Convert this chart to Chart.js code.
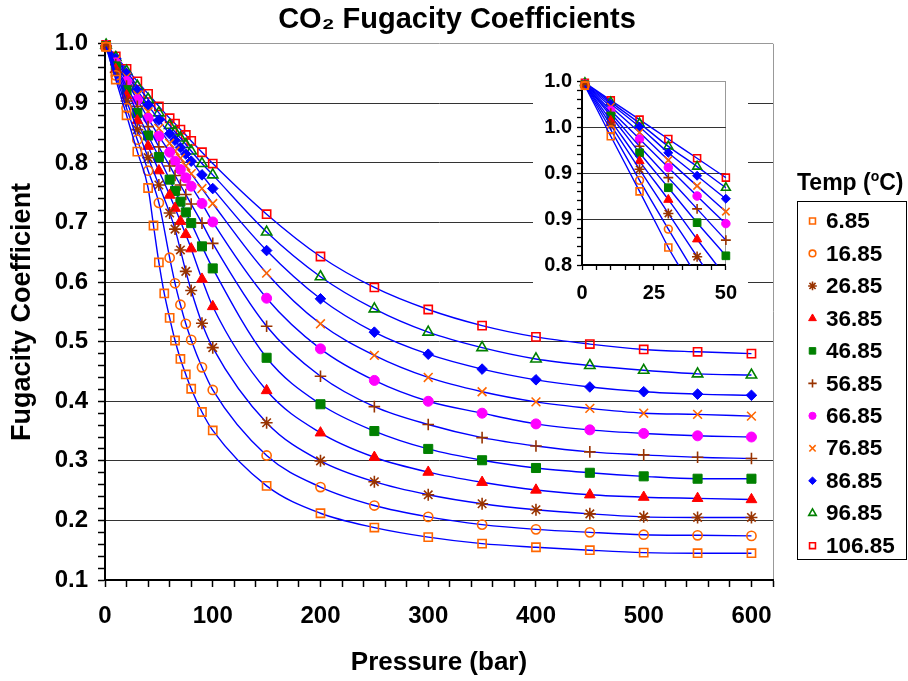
<!DOCTYPE html>
<html>
<head>
<meta charset="utf-8">
<title>CO2 Fugacity Coefficients</title>
<script src="https://cdn.jsdelivr.net/npm/chart.js@4.4.0/dist/chart.umd.min.js"></script>
<style>
  body { margin: 0; background: #fff; }
  #wrap { position: relative; width: 908px; height: 681px; }
  #main { position: absolute; left: 0; top: 0; }
  #inset { position: absolute; left: 533px; top: 62px; background: #fff; }
</style>
</head>
<body>
<div id="wrap">
  <canvas id="main" width="908" height="681"></canvas>
  <canvas id="inset" width="215" height="240"></canvas>
</div>
<script>
// temperatures (degC), one series each
const temps = ['6.85', '16.85', '26.85', '36.85', '46.85', '56.85', '66.85', '76.85', '86.85', '96.85', '106.85'];

// pressures (bar)
const pressures685 = [1, 10, 20, 30, 40, 45, 50, 55, 60, 65, 70, 75, 80, 90, 100, 150, 200, 250, 300, 350, 400, 450, 500, 550, 600];
const pressures = [1, 10, 20, 30, 40, 50, 60, 65, 70, 75, 80, 90, 100, 150, 200, 250, 300, 350, 400, 450, 500, 550, 600];

// fugacity coefficients
const phi685 = [0.995, 0.940, 0.880, 0.819, 0.758, 0.695, 0.633, 0.581, 0.540, 0.502, 0.471, 0.445, 0.421, 0.382, 0.351, 0.258, 0.212, 0.188, 0.172, 0.161, 0.155, 0.150, 0.146, 0.145, 0.145];
const phi1685 = [0.995, 0.947, 0.892, 0.839, 0.787, 0.733, 0.641, 0.598, 0.562, 0.530, 0.503, 0.457, 0.419, 0.309, 0.256, 0.225, 0.206, 0.193, 0.185, 0.180, 0.176, 0.175, 0.174];
const phi2685 = [0.996, 0.952, 0.904, 0.856, 0.809, 0.763, 0.716, 0.689, 0.654, 0.618, 0.586, 0.531, 0.490, 0.364, 0.300, 0.265, 0.243, 0.228, 0.218, 0.211, 0.206, 0.205, 0.205];
const phi3685 = [0.996, 0.957, 0.913, 0.871, 0.828, 0.787, 0.746, 0.724, 0.702, 0.680, 0.656, 0.605, 0.559, 0.418, 0.347, 0.306, 0.281, 0.264, 0.251, 0.243, 0.239, 0.237, 0.235];
const phi4685 = [0.996, 0.962, 0.922, 0.884, 0.846, 0.810, 0.772, 0.753, 0.735, 0.717, 0.699, 0.660, 0.623, 0.473, 0.395, 0.350, 0.320, 0.301, 0.288, 0.280, 0.274, 0.270, 0.270];
const phi5685 = [0.996, 0.965, 0.929, 0.895, 0.861, 0.827, 0.795, 0.779, 0.763, 0.747, 0.731, 0.699, 0.665, 0.526, 0.442, 0.391, 0.361, 0.339, 0.325, 0.315, 0.310, 0.306, 0.304];
const phi6685 = [0.997, 0.968, 0.937, 0.906, 0.875, 0.845, 0.818, 0.803, 0.789, 0.775, 0.761, 0.732, 0.701, 0.573, 0.488, 0.435, 0.400, 0.380, 0.362, 0.352, 0.346, 0.342, 0.340];
const phi7685 = [0.997, 0.972, 0.944, 0.914, 0.886, 0.858, 0.833, 0.820, 0.808, 0.795, 0.782, 0.757, 0.732, 0.615, 0.530, 0.477, 0.440, 0.416, 0.399, 0.388, 0.380, 0.378, 0.375];
const phi8685 = [0.997, 0.975, 0.950, 0.922, 0.897, 0.872, 0.849, 0.838, 0.826, 0.815, 0.803, 0.780, 0.757, 0.653, 0.572, 0.516, 0.479, 0.454, 0.436, 0.424, 0.416, 0.412, 0.410];
const phi9685 = [0.998, 0.977, 0.954, 0.929, 0.907, 0.884, 0.863, 0.852, 0.842, 0.831, 0.820, 0.799, 0.780, 0.684, 0.609, 0.555, 0.516, 0.490, 0.471, 0.460, 0.452, 0.446, 0.444];
const phi10685 = [0.998, 0.979, 0.958, 0.937, 0.916, 0.895, 0.875, 0.866, 0.856, 0.847, 0.837, 0.818, 0.799, 0.714, 0.643, 0.591, 0.554, 0.527, 0.508, 0.496, 0.487, 0.483, 0.480];

const seriesPressures = [pressures685, pressures, pressures, pressures, pressures, pressures, pressures, pressures, pressures, pressures, pressures];
const seriesPhi = [phi685, phi1685, phi2685, phi3685, phi4685, phi5685, phi6685, phi7685, phi8685, phi9685, phi10685];

// tick labels
const xTickLabels = ['0', '100', '200', '300', '400', '500', '600'];
const yTickLabels = ['0.1', '0.2', '0.3', '0.4', '0.5', '0.6', '0.7', '0.8', '0.9', '1.0'];
const insetXTickLabels = ['0', '25', '50'];
const insetYTickValues = [0.8, 0.85, 0.9, 0.95, 1.0];
const insetYTickLabels = ['0.8', '0.9', '0.9', '1.0', '1.0'];

const ORANGE = '#ff6600', BROWN = '#993300', RED = '#ff0000', GREEN = '#008000', MAGENTA = '#ff00ff', BLUE = '#0000ff';
const markers = [
  { style: 'rect', color: ORANGE, fill: false, r: 5.8 },
  { style: 'circle', color: ORANGE, fill: false, r: 4.6 },
  { style: 'star', color: BROWN, fill: true, r: 6 },
  { style: 'triangle', color: RED, fill: true, r: 6.2 },
  { style: 'rect', color: GREEN, fill: true, r: 6.4 },
  { style: 'cross', color: BROWN, fill: true, r: 5.8 },
  { style: 'circle', color: MAGENTA, fill: true, r: 5 },
  { style: 'crossRot', color: ORANGE, fill: true, r: 6.2 },
  { style: 'rectRot', color: BLUE, fill: true, r: 5.3 },
  { style: 'triangle', color: GREEN, fill: false, r: 6 },
  { style: 'rect', color: RED, fill: false, r: 5.8 }
];

Chart.defaults.font.family = '"Liberation Sans", Arial, sans-serif';
Chart.defaults.color = '#000';

function steps(from, to, step) {
  const out = [];
  const n = Math.round((to - from) / step);
  for (let i = 0; i <= n; i++) out.push({ value: Math.round((from + i * step) * 1000) / 1000 });
  return out;
}

function makeDatasets(k, clip) {
  return temps.map((t, i) => {
    const m = markers[i];
    const lineMark = m.style === 'cross' || m.style === 'crossRot' || m.style === 'star';
    return {
      label: t,
      data: seriesPressures[i].map((p, j) => ({ x: p, y: seriesPhi[i][j] })),
      showLine: true,
      borderColor: BLUE,
      borderWidth: 1.4,
      cubicInterpolationMode: 'monotone',
      pointStyle: m.style,
      pointRadius: m.r * k,
      pointHoverRadius: m.r * k,
      pointBorderColor: m.color,
      pointBackgroundColor: m.fill ? m.color : 'rgba(0,0,0,0)',
      pointBorderWidth: (m.fill && !lineMark) ? 1 : 1.6,
      clip: clip
    };
  });
}

// legend box drawn on the right of the main chart
const tempLegend = {
  id: 'tempLegend',
  afterDraw(chart) {
    const ctx = chart.ctx;
    ctx.save();
    ctx.strokeStyle = '#000';
    ctx.lineWidth = 1;
    ctx.strokeRect(797.5, 201.5, 109, 358);
    ctx.fillStyle = '#000';
    ctx.textBaseline = 'middle';
    ctx.textAlign = 'left';
    const big = 'bold 23px "Liberation Sans", Arial, sans-serif';
    const item = 'bold 22.5px "Liberation Sans", Arial, sans-serif';
    const small = 'bold 14px "Liberation Sans", Arial, sans-serif';
    let x = 797;
    const ty = 184;
    ctx.font = big;
    ctx.fillText('Temp (', x, ty);
    x += ctx.measureText('Temp (').width;
    ctx.font = small;
    ctx.fillText('o', x, ty - 7);
    x += ctx.measureText('o').width;
    ctx.font = big;
    ctx.fillText('C)', x, ty);

    chart.data.datasets.forEach((ds, i) => {
      const y = 221 + i * 32.47;
      ctx.strokeStyle = ds.pointBorderColor;
      ctx.fillStyle = ds.pointBackgroundColor;
      ctx.lineWidth = ds.pointBorderWidth;
      Chart.helpers.drawPoint(ctx, { pointStyle: ds.pointStyle, radius: ds.pointRadius * 0.72, borderWidth: ds.pointBorderWidth, rotation: 0 }, 812.5, y);
      ctx.fillStyle = '#000';
      ctx.font = item;
      ctx.fillText(ds.label, 826, y + 1);
    });
    ctx.restore();
  }
};

const isTenth = (v) => Math.abs(v * 10 - Math.round(v * 10)) < 1e-6;

new Chart(document.getElementById('main'), {
  type: 'scatter',
  data: { datasets: makeDatasets(1, false) },
  options: {
    responsive: false,
    animation: false,
    events: [],
    layout: { padding: { left: 6, right: 0, top: 0, bottom: 0 } },
    plugins: {
      legend: { display: false },
      tooltip: { enabled: false },
      title: {
        display: true,
        text: 'CO\u2082 Fugacity Coefficients',
        font: { size: 29, weight: 'bold' },
        color: '#000',
        padding: { top: 3, bottom: 6 }
      }
    },
    scales: {
      x: {
        type: 'linear',
        min: 0,
        max: 620,
        afterBuildTicks: (s) => { s.ticks = steps(0, 620, 20); },
        afterFit: (s) => { s.height = 101; },
        ticks: {
          autoSkip: false,
          maxRotation: 0,
          padding: 15,
          font: { size: 24, weight: 'bold' },
          color: '#000',
          callback: (v) => (v % 100 === 0 && v <= 600) ? xTickLabels[v / 100] : ''
        },
        grid: {
          color: (c) => (c.tick && c.tick.value === 620) ? '#999' : 'rgba(0,0,0,0)',
          tickColor: '#000',
          tickLength: 7,
          tickWidth: 1.5,
          lineWidth: 1
        },
        border: { color: '#000', width: 2 },
        title: {
          display: true,
          text: 'Pressure (bar)',
          font: { size: 26, weight: 'bold' },
          color: '#000',
          padding: { top: 0, bottom: 3 }
        }
      },
      y: {
        type: 'linear',
        min: 0.1,
        max: 1.0,
        afterBuildTicks: (s) => { s.ticks = steps(0.1, 1.0, 0.02); },
        afterFit: (s) => { s.width = 99; },
        ticks: {
          autoSkip: false,
          padding: 10,
          font: { size: 24, weight: 'bold' },
          color: '#000',
          callback: (v) => isTenth(v) ? yTickLabels[Math.round(v * 10) - 1] : ''
        },
        grid: {
          color: (c) => {
            const v = c.tick ? c.tick.value : 0;
            if (Math.abs(v - 1) < 1e-6) return '#999';
            if (isTenth(v) && v > 0.15) return '#333';
            return 'rgba(0,0,0,0)';
          },
          tickColor: '#000',
          tickLength: 7,
          tickWidth: 1.5,
          lineWidth: 1
        },
        border: { color: '#000', width: 2 },
        title: {
          display: true,
          text: 'Fugacity Coefficient',
          font: { size: 27, weight: 'bold' },
          color: '#000',
          padding: { top: 0, bottom: 0 }
        }
      },
      // empty axis that keeps room for the legend on the right
      yRoom: {
        type: 'linear',
        position: 'right',
        min: 0,
        max: 1,
        afterFit: (s) => { s.width = 135; },
        ticks: { display: false },
        grid: { display: false },
        border: { display: false }
      }
    }
  },
  plugins: [tempLegend]
});

// inset: zoom on the low pressure part
new Chart(document.getElementById('inset'), {
  type: 'scatter',
  data: { datasets: makeDatasets(0.85, { left: 12, top: 12, right: 6, bottom: 0 }) },
  options: {
    responsive: false,
    animation: false,
    events: [],
    layout: { padding: { left: 0, right: 18, top: 19, bottom: 0 } },
    plugins: { legend: { display: false }, tooltip: { enabled: false }, title: { display: false } },
    scales: {
      x: {
        type: 'linear',
        min: 0,
        max: 50,
        afterBuildTicks: (s) => { s.ticks = steps(0, 50, 5); },
        afterFit: (s) => { s.height = 37; },
        ticks: {
          autoSkip: false,
          maxRotation: 0,
          padding: 11,
          font: { size: 20, weight: 'bold' },
          color: '#000',
          callback: (v) => (v % 25 === 0) ? insetXTickLabels[v / 25] : ''
        },
        grid: {
          color: (c) => (c.tick && c.tick.value === 50) ? '#999' : 'rgba(0,0,0,0)',
          tickColor: '#000',
          tickLength: 5,
          tickWidth: 1.3,
          lineWidth: 1
        },
        border: { color: '#000', width: 2 }
      },
      y: {
        type: 'linear',
        min: 0.8,
        max: 1.0,
        afterBuildTicks: (s) => { s.ticks = steps(0.8, 1.0, 0.01); },
        afterFit: (s) => { s.width = 49; },
        ticks: {
          autoSkip: false,
          padding: 5,
          font: { size: 20, weight: 'bold' },
          color: '#000',
          callback: (v) => {
            const i = insetYTickValues.findIndex((t) => Math.abs(t - v) < 1e-6);
            return i >= 0 ? insetYTickLabels[i] : '';
          }
        },
        grid: {
          color: (c) => {
            const v = c.tick ? c.tick.value : 0;
            if (Math.abs(v - 1) < 1e-6) return '#999';
            if (Math.abs(v - 0.8) > 1e-6 && insetYTickValues.some((t) => Math.abs(t - v) < 1e-6)) return '#333';
            return 'rgba(0,0,0,0)';
          },
          tickColor: '#000',
          tickLength: 5,
          tickWidth: 1.3,
          lineWidth: 1
        },
        border: { color: '#000', width: 2 }
      }
    }
  }
});
</script>
</body>
</html>
